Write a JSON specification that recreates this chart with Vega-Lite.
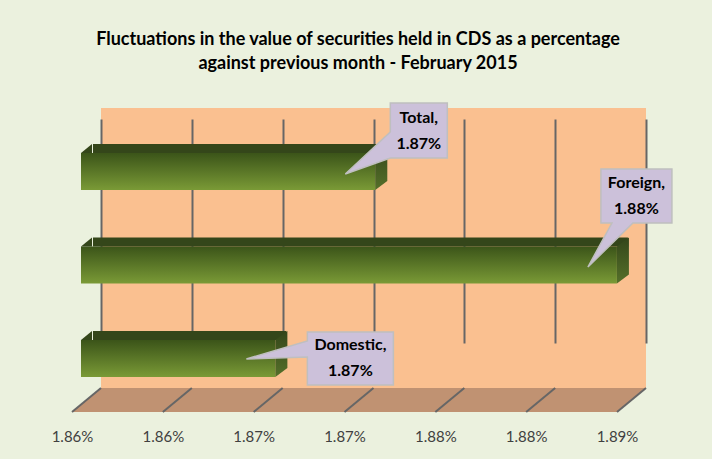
{
  "$schema": "https://vega.github.io/schema/vega-lite/v6.json",
  "autosize": {"type": "none"},
  "width": 545,
  "height": 280,
  "padding": {"left": 101, "top": 108, "right": 66, "bottom": 71},
  "background": "#EBF1DE",
  "view": {"fill": "#FAC090", "stroke": null},
  "config": {"font": "Lato"},
  "title": {
    "text": ["Fluctuations in the value of securities held in CDS as a percentage", "against previous month - February 2015"],
    "fontSize": 18,
    "fontWeight": "bold",
    "font": "Lato",
    "color": "#000000",
    "lineHeight": 24,
    "anchor": "middle",
    "frame": "group",
    "dx": -15.5,
    "offset": 27
  },
  "datasets": {
    "bars": [
      {"cat": "Total", "v": 1.8714},
      {"cat": "Foreign", "v": 1.8847},
      {"cat": "Domestic", "v": 1.8659}
    ],
    "ticks": [
      {"t": 1.8552}, {"t": 1.8602}, {"t": 1.8652}, {"t": 1.8702}, {"t": 1.8752}, {"t": 1.8802}, {"t": 1.8852}
    ]
  },
  "layer": [
    {
      "data": {"values": [{}]},
      "mark": {"type": "point", "shape": "M0,0L545,0L516,24L-29,24Z", "size": 4, "filled": true, "fill": "#C09272", "strokeWidth": 0, "opacity": 1, "y": "height"},
      "encoding": {
        "x": {
          "datum": 1.8552, "type": "quantitative",
          "scale": {"type": "linear", "domain": [1.8552, 1.8852], "nice": false, "zero": false},
          "axis": {
            "values": [1.8552, 1.8602, 1.8652, 1.8702, 1.8752, 1.8802, 1.8852],
            "labelExpr": "format(datum.value, '.2f') + '%'",
            "labelOffset": -29,
            "labelPadding": 41,
            "labelFontSize": 15,
            "labelColor": "#404040",
            "labelFont": "Lato",
            "labelFlush": false,
            "labelOverlap": false,
            "labelBound": false,
            "ticks": false,
            "tickSize": 0,
            "domain": false,
            "grid": true,
            "gridColor": "#666666",
            "gridWidth": 2,
            "title": null
          }
        }
      }
    },
    {
      "data": {"name": "ticks"},
      "mark": {"type": "point", "shape": "M0,0L-29,24", "size": 4, "filled": false, "stroke": "#666666", "strokeWidth": 2, "opacity": 1, "y": "height"},
      "encoding": {"x": {"field": "t", "type": "quantitative"}}
    },
    {
      "data": {"name": "bars"},
      "encoding": {
        "x": {"field": "v", "type": "quantitative"},
        "y": {"field": "cat", "type": "nominal", "scale": {"type": "band", "domain": ["Total", "Foreign", "Domestic"], "range": [45, 269], "paddingInner": 0.604, "paddingOuter": 0}, "axis": null}
      },
      "layer": [
        {
          "mark": {"type": "bar", "xOffset": -20, "x2Offset": -20,
            "color": {"gradient": "linear", "x1": 0, "y1": 0, "x2": 0, "y2": 1, "stops": [{"offset": 0, "color": "#3B5419"}, {"offset": 1, "color": "#7A9A36"}]}},
          "encoding": {"x2": {"datum": 1.8552}}
        },
        {
          "mark": {"type": "bar", "height": 9, "yOffset": -23, "xOffset": -9, "x2Offset": -8, "color": "#34461A"},
          "encoding": {"x2": {"datum": 1.8552}}
        },
        {
          "mark": {"type": "point", "shape": "M-20,-18.5L-9,-27.5L-9,-18.5Z", "size": 4, "filled": true, "fill": "#34461A", "strokeWidth": 0, "opacity": 1},
          "encoding": {"x": {"datum": 1.8552, "type": "quantitative"}}
        },
        {
          "mark": {"type": "point", "shape": "M-20,-18.5L-8,-27.5L-8,9.5L-20,18.5Z", "size": 4, "filled": true, "strokeWidth": 0, "opacity": 1,
            "fill": {"gradient": "linear", "x1": 0, "y1": 0, "x2": 0, "y2": 1, "stops": [{"offset": 0, "color": "#34461A"}, {"offset": 1, "color": "#55702A"}]}}
        },
        {
          "transform": [{"filter": "datum.cat === 'Total'"}],
          "layer": [
            {"mark": {"type": "point", "shape": "M-5,-68.5L52,-68.5L52,-13.5L-5,-13.5L-50,2.5L-5,-39.5Z", "size": 4, "filled": true, "fill": "#CCC1DA", "stroke": "#BFBFBF", "strokeWidth": 1.5, "opacity": 1}},
            {"mark": {"type": "text", "text": {"expr": "[datum.cat + ',', format(datum.v, '.2f') + '%']"}, "dx": 23.5, "dy": -54, "fontWeight": "bold", "fontSize": 16, "lineHeight": 26, "baseline": "middle", "align": "center", "color": "#000000"}}
          ]
        },
        {
          "transform": [{"filter": "datum.cat === 'Foreign'"}],
          "layer": [
            {"mark": {"type": "point", "shape": "M-36,-96L35,-96L35,-42L-4,-42L-49,2L-25,-42L-36,-42Z", "size": 4, "filled": true, "fill": "#CCC1DA", "stroke": "#BFBFBF", "strokeWidth": 1.5, "opacity": 1}},
            {"mark": {"type": "text", "text": {"expr": "[datum.cat + ',', format(datum.v, '.2f') + '%']"}, "dx": -0.5, "dy": -82, "fontWeight": "bold", "fontSize": 16, "lineHeight": 26, "baseline": "middle", "align": "center", "color": "#000000"}}
          ]
        },
        {
          "transform": [{"filter": "datum.cat === 'Domestic'"}],
          "layer": [
            {"mark": {"type": "point", "shape": "M12,-26.5L98,-26.5L98,26.5L12,26.5L12,-1.5L-49,0.5L12,-17.5Z", "size": 4, "filled": true, "fill": "#CCC1DA", "stroke": "#BFBFBF", "strokeWidth": 1.5, "opacity": 1}},
            {"mark": {"type": "text", "text": {"expr": "[datum.cat + ',', format(datum.v, '.2f') + '%']"}, "dx": 55, "dy": -13, "fontWeight": "bold", "fontSize": 16, "lineHeight": 26, "baseline": "middle", "align": "center", "color": "#000000"}}
          ]
        }
      ]
    }
  ]
}
